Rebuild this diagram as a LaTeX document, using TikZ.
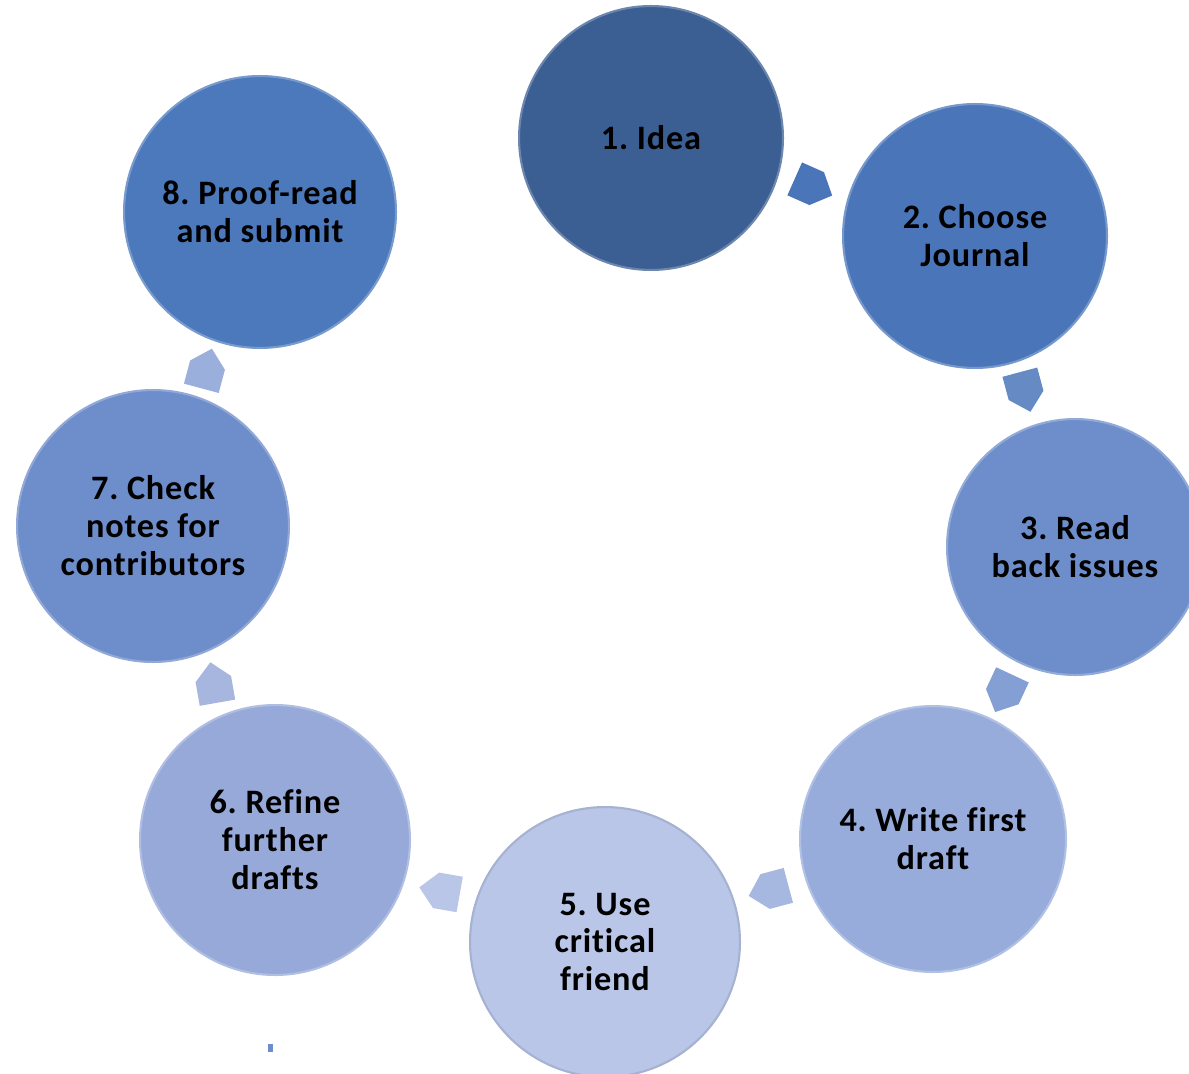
\documentclass[tikz,border=0pt]{standalone}
\usepackage{fontspec}
\setmainfont[LetterSpace=2.5, Ligatures=NoCommon]{Carlito}
\usepackage{tikz}
\usetikzlibrary{
    calc,
    positioning
}
\frenchspacing
\definecolor{stepA}{HTML}{3B5E93}
\definecolor{stepB}{HTML}{4A76B9}
\definecolor{stepC}{HTML}{6E8ECB}
\definecolor{stepD}{HTML}{97ACDB}
\definecolor{stepE}{HTML}{B9C6E8}
\definecolor{stepF}{HTML}{96A9D9}
\definecolor{stepG}{HTML}{6E8DCB}
\definecolor{stepH}{HTML}{4C78BC}
\tikzset{
    stage/.style={
        circle, inner sep=0pt, align=center,
        minimum size={#1*0.04cm},
        font=\fontsize{19.5}{21.6}\selectfont\bfseries
    },
    stage/.default=133
}

\begin{document}
\begin{tikzpicture}[x=0.02cm, y=0.02cm]
    \useasboundingbox (0,0) rectangle (1189,-1074);
    \clip (0,0) rectangle (1189,-1074);
    % the eight stages
    \node[stage=132, fill=stepA, draw=stepA!75!white, line width=1.2pt] (c1) at (651,-138) {1. Idea};
    \node[stage=132, fill=stepB, draw=stepB!75!white, line width=1.2pt] (c2) at (975,-236) {2. Choose\\Journal};
    \node[stage=128, fill=stepC, draw=stepC!75!white, line width=1.2pt] (c3) at (1075,-547) {3. Read\\back issues};
    \node[stage=133, fill=stepD, draw=stepD!75!white, line width=1.2pt] (c4) at (933,-839) {4. Write first\\draft};
    \node[stage=135, fill=stepE, draw=stepE!90!black, line width=1.2pt] (c5) at (605,-942) {5. Use\\critical\\friend};
    \node[stage=135, fill=stepF, draw=stepF!75!white, line width=1.2pt] (c6) at (275,-840) {6. Refine\\further\\drafts};
    \node[stage=136, fill=stepG, draw=stepG!75!white, line width=1.2pt] (c7) at (153,-526) {7. Check\\notes for\\contributors};
    \node[stage=136, fill=stepH, draw=stepH!75!white, line width=1.2pt] (c8) at (260,-212) {8. Proof-read\\and submit};
    % arrows between the stages
    \foreach \from/\to/\ang/\col in {c1/c2/-24/stepB, c2/c3/-75/stepB!85!white,
        c3/c4/-115/stepC!85!white, c4/c5/-165/stepD!85!white,
        c5/c6/170/stepE, c6/c7/100/stepF!85!white, c7/c8/75/stepG!70!white}
        \fill[\col, shift={($(\from)!.5!(\to)$)}, rotate=\ang]
            (-20,-18) -- (4,-18) -- (21,0) -- (4,18) -- (-20,18) -- cycle;
    \fill[stepC] (268,-1044) rectangle (273,-1052);
\end{tikzpicture}
\end{document}
